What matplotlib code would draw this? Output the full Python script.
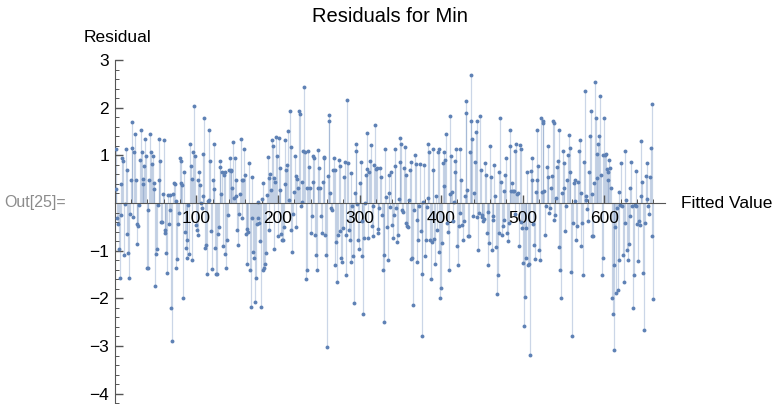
import numpy as np
import matplotlib
matplotlib.use("Agg")
import matplotlib.pyplot as plt
from matplotlib.ticker import MultipleLocator, FixedLocator

# residuals, read left to right in blocks of fitted value
res_a = [1.13, 0.29, -0.32, -0.45, -0.97, -1.58, 0.39, -0.25, 0.94, 0.88, -1.09, -0.02, 1.13, 0.69,
         -0.65, -1.04, -1.57, -0.24, 0.49, 1.15, 1.69, -0.29, 1.08, 1.44, 0.49, -0.45, -0.87, -0.48,
         -0.04, 0.90, 1.54, 1.08, 0.40, 0.50, 0.78, 1.34, 0.98, -1.37, -1.37, -0.14, 0.49, 1.44, 1.08,
         0.81, 0.98, 0.43, 0.29, -1.75, -1.08, -0.97, -0.04, 0.49, 1.34, 0.88, -0.39, -0.39, 0.18,
         1.33, -0.62, -0.56, -1.04, -1.47]
res_b = [0.17, -0.45, 0.17, -0.15, -2.21, -2.89, 0.18, 0.43, 0.39, 0.04, -1.37, -1.17, -0.45, -0.21,
         0.94, 0.88, 0.41, 0.38, -1.99, 0.64, -0.61, -0.95, -1.16, -0.78, -0.04, -1.06, 1.24, 0.78,
         0.50, -1.19, 1.08, 2.04, 0.99, -0.46, -0.56, -0.67, 0.49, 0.64, 0.38, 0.00, -0.10, 0.15, 1.03,
         1.79, -0.95, -0.88, -1.48, 0.04, 0.06, 1.54, 0.88, -0.59, -1.39, 0.48, 1.23, 0.29, -0.94,
         -1.48, -1.48, -0.64, -0.50, 0.76, 0.88, 0.18, 0.64, -0.90, 0.59, 0.66]
res_c = [-1.06, -1.37, -0.77, -0.25, 0.69, 0.94, 0.69, 0.67, 0.31, 1.27, 0.10, 0.94, 0.48, 0.14,
         -0.57, -0.88, -0.24, 0.18, 1.34, 0.48, -0.31, 0.48, 1.13, 0.59, -0.66, -1.27, -0.55, -0.60,
         0.84, -1.40, -2.18, -0.32, 0.55, -1.02, -1.16, -2.07, -1.58, -0.45, -0.31, 0.03, -0.42, -0.80,
         -2.18, 0.08, 0.43, -1.41, -1.36, -1.27, -1.05, 0.17, 0.97, 0.53, -0.57, 0.60, 0.28, 1.33,
         1.19, 0.53, -0.97, 0.45, 1.38, 0.98, -0.70]
res_d = [1.37, 0.73, 0.28, -0.66, -0.78, -0.78, -0.50, 0.39, 1.33, 0.69, 0.80, 1.51, 0.07, 1.93,
         1.17, -0.57, -1.03, -0.24, 0.24, 0.99, 0.56, -0.50, 0.50, 0.31, 1.93, 1.87, -0.06, 0.03, 0.45,
         1.09, 2.43, 1.08, -1.59, -1.40, 0.31, 1.10, 0.76, 0.31, -0.63, -0.27, 0.45, 0.98, 0.94, -0.67,
         -1.09, -1.40, 0.31, 1.12, 0.74, 0.31, -0.27, -0.63, 0.45, 0.97, 0.95, -0.67, -1.09, -3.02,
         0.56, 1.85, 1.73, 0.20, -0.11, -0.14, 0.69, 0.95]
res_e = [0.70, -1.30, -0.81, -1.65, -0.67, 0.91, 0.78, -0.59, -1.15, -1.24, -0.53, 0.55, 0.85, -1.50,
         -0.67, 2.17, 0.83, -0.56, -0.78, -1.24, 0.63, -0.06, -1.12, -2.10, 0.21, 1.24, 1.10, -0.03,
         -0.78, -0.97, 0.42, 0.87, -0.38, -1.12, -2.32, -0.73, 0.00, 0.59, 1.47, 0.71, -0.74, 0.66,
         0.88, 1.22, -0.48, -0.06, -0.69, 0.80, 1.64, 0.71, 0.74, -0.55, -0.63, -0.11, 0.73, 0.55,
         -0.25, -1.41, -2.50, -1.09, 1.13, 0.13, -0.50, -1.20]
res_f = [0.21, 0.59, -0.08, 0.66, -0.46, -0.74, -0.25, 1.13, 0.77, -0.11, -0.81, -0.67, 0.08, 0.87,
         1.36, 1.24, -0.15, -0.18, 0.73, 1.17, 0.59, -0.41, -0.48, -0.50, 0.06, 0.69, 0.87, -1.17,
         -1.16, -2.14, -0.15, 1.01, 0.81, -0.35, -1.23, -0.77, -0.06, 0.81, -0.59, -1.48, -2.80, 0.03,
         0.80, -1.12, -0.78, -0.08, 0.10, 1.23, 1.06, -0.78, -1.59, -0.81, 1.13, 0.69, -0.76, -1.27,
         0.15, -0.57, 1.08, 1.13, -1.02, -2.00, -1.79, -0.83, 0.84]
res_g = [1.08, 0.35, 0.90, 1.44, -0.42, -0.60, -1.40, 0.18, 1.83, 0.99, 0.24, -0.38, 0.03, 0.64,
         0.88, 1.13, -0.90, -1.31, -0.49, -0.21, 1.13, 0.49, -0.46, -0.77, -0.38, 0.14, 1.89, 2.14,
         0.28, -0.70, -0.70, 1.08, 1.73, 2.69, 1.34, -0.27, 0.22, 0.85, 1.48, 1.73, -0.29, -0.99,
         -0.22, 1.83, 0.69, -0.25, -0.29, -0.38, -0.34, 0.84, 0.59, -0.62, -1.30, -0.18, -0.83, 1.19,
         0.55, -0.98, -0.28, -0.35, 0.80, 0.14, -0.92, -1.90]
res_h = [-1.50, -0.63, 0.64, 1.79, 0.45, -0.67, -0.48, -0.35, 0.25, 0.59, 0.94, -0.62, -0.80, -0.43,
         1.54, 1.19, 0.25, 0.43, 0.25, 0.25, 1.09, -0.24, 1.24, 0.18, 0.22, -0.90, 1.22, 1.13, -0.39,
         -0.52, -1.26, -2.57, -1.97, -1.15, -0.52, 0.64, -1.31, -1.29, -3.19, 0.67, 0.94, 0.49, -0.45,
         -0.88, -1.17, 0.24, 0.49, 1.54, 0.78, -0.99, -1.19, 1.78, 0.24, 1.73, 1.68, 0.25, -0.67,
         -0.07, 0.76, 1.20, 0.55, -0.21, -0.10, 0.31, 0.57, 1.73, 1.68, -0.35, -0.25, 0.11, 0.76]
res_i = [0.88, 1.54, -0.92, -1.40, -2.00, 0.20, 1.09, 0.84, 0.31, -0.59, -0.07, 0.48, 1.01, 1.43,
         1.15, 0.64, -1.45, -2.78, -0.43, 0.43, 0.48, 0.04, -0.78, -0.48, 0.45, 1.09, 1.33, -0.91,
         0.21, -0.41, -1.50, 0.87, 2.34, 0.06, 0.14, -0.13, -0.38, 0.64, 1.40, 1.94, 0.18, -0.69,
         -0.70, 0.42, 2.53, 1.79, 1.03, 0.52, 1.24, 1.40, 2.24, 0.59, -1.50, -1.16, 1.01, 1.78, 1.01,
         1.02, 0.71, 0.49, 0.66, 0.91, 0.73, 0.31, -2.00, -2.32, -3.09, -1.30, -0.50, -1.89]
res_j = [-0.10, -1.83, -1.20, 0.24, -0.04, 0.83, -0.06, -1.10, -1.66, -0.43, 1.10, 0.06, -0.98, -1.19,
         -0.87, -0.27, 0.32, 0.85, -0.07, -2.21, -1.50, -0.04, 0.67, -0.07, -0.45, -1.22, -0.38, -0.46,
         0.15, 1.31, 0.45, -1.47, -2.67, -0.42, 0.57, 0.84, 0.08, -0.07, -0.24, 0.55, 1.16, 2.08,
         -0.70, -2.01]

x_ticks = [100, 200, 300, 400, 500, 600]
y_ticks = [-4, -3, -2, -1, 1, 2, 3]

resid = np.array(res_a + res_b + res_c + res_d + res_e + res_f + res_g + res_h + res_i + res_j)
fitted = np.linspace(1, 660, len(resid))

point_color = "#5e81b5"
axis_color = "#555555"
plt.rcParams["font.family"] = ["Liberation Sans", "DejaVu Sans"]

fig = plt.figure(figsize=(7.72, 4.04), dpi=100)
ax = fig.add_axes([114.7 / 772, 1 - 403.2 / 404, 550 / 772, (403.2 - 60) / 404])
ax.set_xlim(0, 674)
ax.set_ylim(-4.2, 3.0)

ax.vlines(fitted, 0, resid, color=point_color, alpha=0.32, lw=0.9, zorder=1)
ax.plot(fitted, resid, "o", ms=2.8, mec="none", color=point_color, zorder=3)

for side in ["top", "right"]:
    ax.spines[side].set_visible(False)
ax.spines["left"].set_position(("data", 0))
ax.spines["bottom"].set_position(("data", 0))
ax.spines["left"].set_color(axis_color)
ax.spines["bottom"].set_color(axis_color)
ax.spines["bottom"].set_zorder(4)

ax.xaxis.set_major_locator(FixedLocator(x_ticks))
ax.xaxis.set_minor_locator(MultipleLocator(20))
ax.yaxis.set_major_locator(FixedLocator(y_ticks))
ax.yaxis.set_minor_locator(MultipleLocator(0.2))
ax.set_yticklabels([f"{t}".replace("-", "\u2212") for t in y_ticks])

ax.tick_params(axis="x", which="both", direction="in", colors=axis_color, labelcolor="black",
               labelsize=12.5, pad=6)
ax.tick_params(axis="y", which="both", direction="in", colors=axis_color, labelcolor="black",
               labelsize=12.5, pad=4)
ax.tick_params(which="major", length=6, width=1)
ax.tick_params(which="minor", length=3, width=0.7)
ax.patch.set_alpha(0)

fig.text(390 / 772, 1 - 17 / 404, "Residuals for Min", ha="center", va="center", fontsize=14.5)
fig.text(117 / 772, 1 - 38 / 404, "Residual", ha="center", va="center", fontsize=12.5)
fig.text(681 / 772, 1 - 203 / 404, "Fitted Value", ha="left", va="center", fontsize=12.5)
fig.text(66 / 772, 1 - 203 / 404, "Out[25]=", ha="right", va="center", fontsize=11.5,
         color="#8c8c8c")

fig.savefig("out.png", dpi=100)
